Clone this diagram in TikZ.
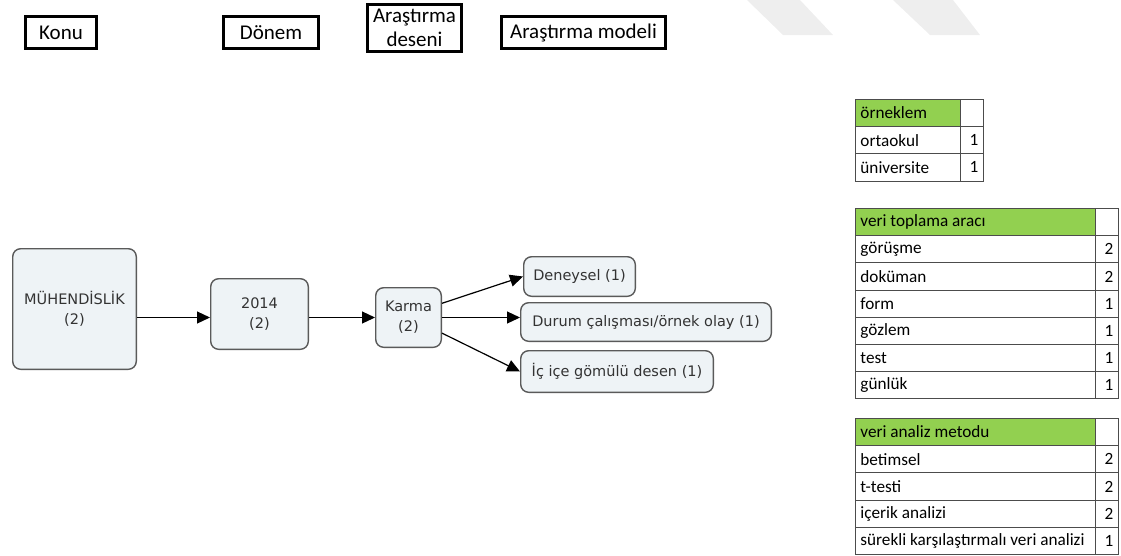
\documentclass[tikz,border=0pt]{standalone}
\usepackage{fontspec}
\setmainfont{Carlito}
\newfontfamily\flowfont{DejaVu Sans}
\usetikzlibrary{positioning, arrows.meta, calc}
\definecolor{boxfill}{HTML}{EEF3F6}
\definecolor{boxline}{HTML}{5A5A5A}
\definecolor{headgreen}{HTML}{92D050}
\definecolor{marktone}{HTML}{EEEEEE}

\begin{document}
\begin{tikzpicture}[x=1pt, y=-1pt,
          title/.style={rectangle, draw, line width=3pt, inner sep=0pt,
            font=\fontsize{21}{24}\selectfont, align=center},
          flow/.style={rectangle, rounded corners=8pt, draw=boxline, line width=1.4pt,
            fill=boxfill, inner sep=0pt, text=black!80,
            font=\flowfont\fontsize{14.5}{20}\selectfont, align=center},
          arr/.style={-{Triangle[length=13pt,width=12pt]}, line width=1.2pt},
          cell/.style={rectangle, draw=black!70, line width=0.9pt, anchor=north west,
            inner xsep=5pt, inner ysep=0pt, minimum height=27.2pt,
            font=\fontsize{17.2}{18}\selectfont},
          smallcol/.style={cell, align=flush left, text width=95pt},
          widecol/.style={cell, align=flush left, text width=230pt},
          num/.style={cell, align=flush right, text width=13pt},
          green/.style={fill=headgreen}]
          \useasboundingbox (0,0) rectangle (1121,555);

          % watermark
          \fill[marktone] (747,0) -- (800,0) -- (833,35) -- (783,35) -- cycle;
          \fill[marktone] (893,0) -- (953,0) -- (980,35) -- (930,35) -- cycle;

          % column titles
          \node[title, minimum width=71pt, minimum height=32pt] (konu) at (61,32.5) {Konu};
          \node[title, minimum width=95pt, minimum height=32pt] (donem) at (271,32.5) {Dönem};
          \node[title, minimum width=94pt, minimum height=47pt] (desen) at (414.5,28) {Araştırma\\deseni};
          \node[title, minimum width=164pt, minimum height=32pt] (model) at (583.5,32.5) {Araştırma modeli};

          % flow
          \node[flow, minimum width=123.6pt, minimum height=120.6pt] (muh) at (74.5,309) {MÜHENDİSLİK\\(2)};
          \node[flow, minimum width=97.6pt, minimum height=70.6pt] (y2014) at (259.5,314) {2014\\(2)};
          \node[flow, minimum width=65.6pt, minimum height=59.6pt] (karma) at (408.5,317.5) {Karma\\(2)};
          \node[flow, minimum width=111.6pt, minimum height=39.6pt] (deneysel) at (579.5,276.5) {Deneysel (1)};
          \node[flow, minimum width=250.6pt, minimum height=38.6pt] (durum) at (646,322) {Durum çalışması/örnek olay (1)};
          \node[flow, minimum width=192.6pt, minimum height=41.6pt] (icice) at (617,371.5) {İç içe gömülü desen (1)};

          \draw[arr] (muh.east |- karma) -- (y2014.west |- karma);
          \draw[arr] (y2014.east |- karma) -- (karma.west);
          \draw[arr] (karma.23) -- (deneysel.west);
          \draw[arr] (karma.east) -- (karma.east -| durum.west);
          \draw[arr] (karma.-25) -- (icice.west);

          % örneklem
          \node[smallcol, green] (ornH) at (855,99) {örneklem};
          \node[num] (ornHn) at (960,99) {};
          \node[smallcol] (orn1) at (855,126.2) {ortaokul};
          \node[num] (orn1n) at (960,126.2) {1};
          \node[smallcol] (orn2) at (855,153.4) {üniversite};
          \node[num] (orn2n) at (960,153.4) {1};

          % veri toplama aracı
          \node[widecol, green] (vtaH) at (855,208) {veri toplama aracı};
          \node[num] (vtaHn) at (1095,208) {};
          \node[widecol] (vta1) at (855,235.2) {görüşme};
          \node[num] (vta1n) at (1095,235.2) {2};
          \node[widecol] (vta2) at (855,262.4) {doküman};
          \node[num] (vta2n) at (1095,262.4) {2};
          \node[widecol] (vta3) at (855,289.6) {form};
          \node[num] (vta3n) at (1095,289.6) {1};
          \node[widecol] (vta4) at (855,316.8) {gözlem};
          \node[num] (vta4n) at (1095,316.8) {1};
          \node[widecol] (vta5) at (855,344) {test};
          \node[num] (vta5n) at (1095,344) {1};
          \node[widecol] (vta6) at (855,371.2) {günlük};
          \node[num] (vta6n) at (1095,371.2) {1};

          % veri analiz metodu
          \node[widecol, green] (vamH) at (855,418) {veri analiz metodu};
          \node[num] (vamHn) at (1095,418) {};
          \node[widecol] (vam1) at (855,445.2) {betimsel};
          \node[num] (vam1n) at (1095,445.2) {2};
          \node[widecol] (vam2) at (855,472.4) {t-testi};
          \node[num] (vam2n) at (1095,472.4) {2};
          \node[widecol] (vam3) at (855,499.6) {içerik analizi};
          \node[num] (vam3n) at (1095,499.6) {2};
          \node[widecol] (vam4) at (855,526.8) {sürekli karşılaştırmalı veri analizi};
          \node[num] (vam4n) at (1095,526.8) {1};
        \end{tikzpicture}
\end{document}
